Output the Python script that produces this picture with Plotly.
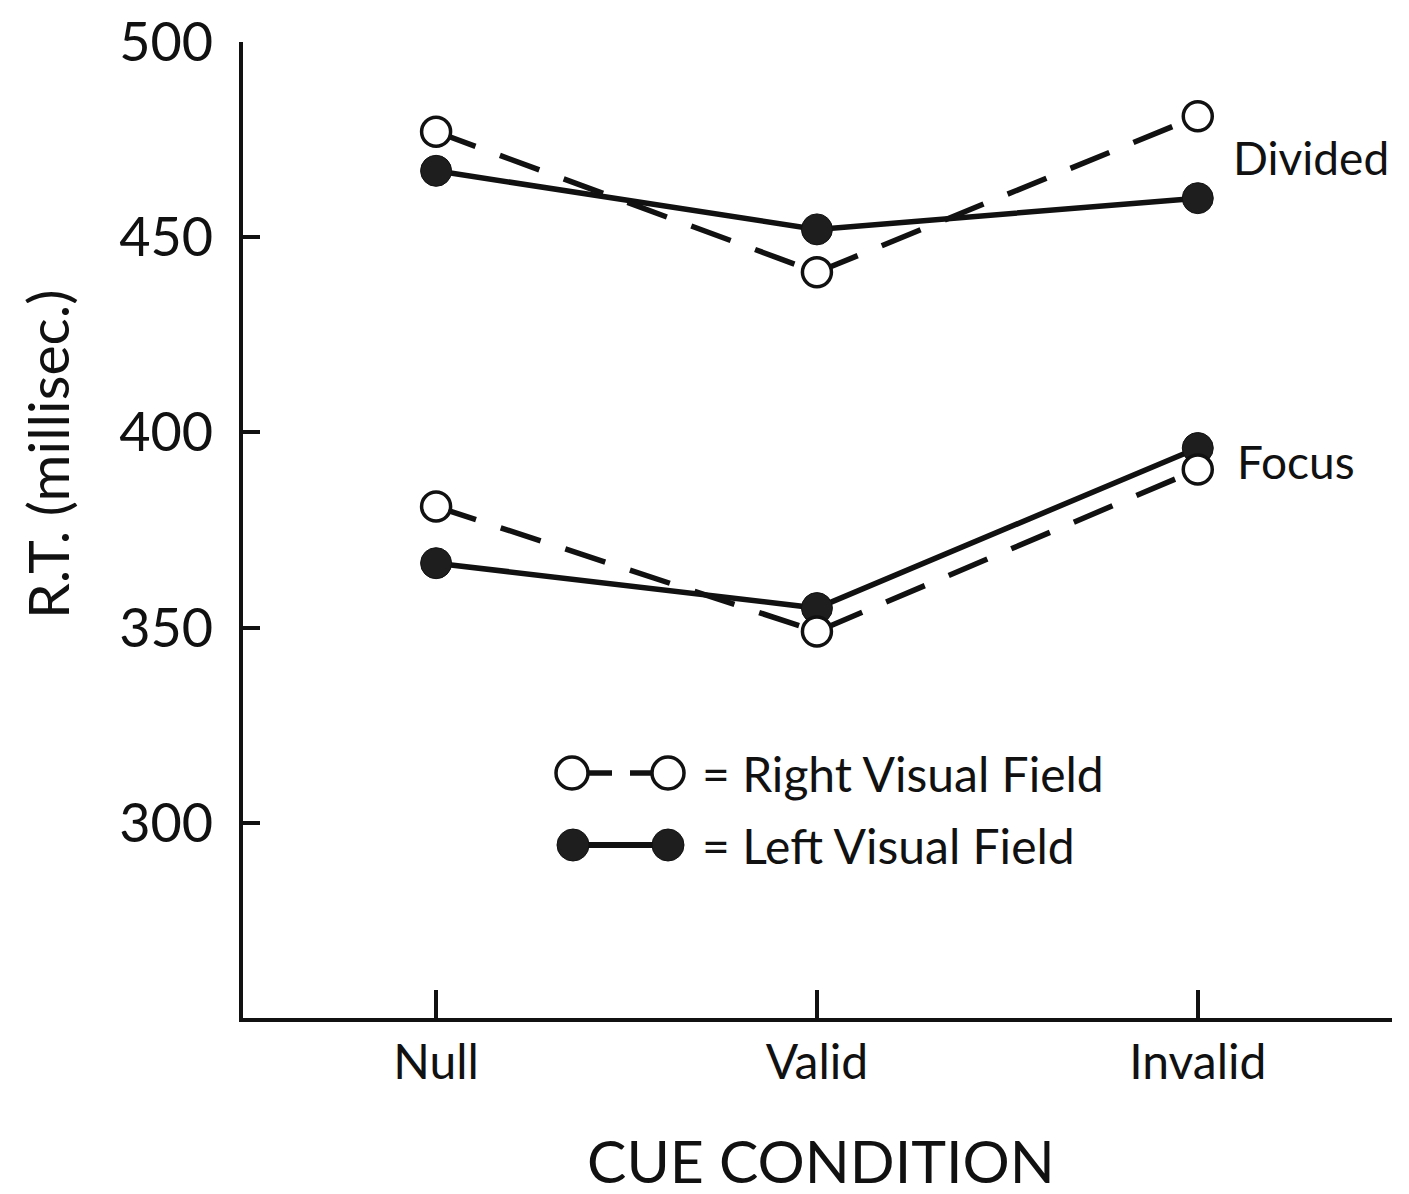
import plotly.graph_objects as go

# ---- data ----
categories = ["Null", "Valid", "Invalid"]
divided_rvf = [477, 441, 481]
divided_lvf = [467, 452, 460]
focus_rvf = [381, 349, 390.5]
focus_lvf = [366.5, 355, 396]
y_tick_vals = [300, 350, 400, 450, 500]
y_tick_text = ["300", "350", "400", "450", "500"]

FONT = "Lato"
INK = "#111111"

W, H = 1409, 1194
OFF = 8  # page body margin shifts the figure by this much
# target plot-area edges in screen pixels
SL, ST, SR, SB = 243, 42, 1392, 1018
L, T = SL - OFF, ST - OFF
R = W - (SR - OFF)
B = H - (SB - OFF)
PW, PH = SR - SL, SB - ST


def px(x):
    return (x - SL) / PW


def py(y):
    return (SB - y) / PH


x_idx = list(range(len(categories)))

fig = go.Figure()

open_marker = dict(symbol="circle", size=29, color="white", line=dict(color=INK, width=3.5))
fill_marker = dict(symbol="circle", size=31, color="#1e1e1e", line=dict(color=INK, width=1))

for lvf, rvf in ((divided_lvf, divided_rvf), (focus_lvf, focus_rvf)):
    fig.add_trace(go.Scatter(x=x_idx, y=lvf, mode="lines+markers",
                             line=dict(color=INK, width=5.5),
                             marker=fill_marker, showlegend=False, cliponaxis=False))
    fig.add_trace(go.Scatter(x=x_idx, y=rvf, mode="lines+markers",
                             line=dict(color=INK, width=5.5, dash="42px,26px"),
                             marker=open_marker, showlegend=False, cliponaxis=False))

shapes = []
annotations = []


def circle(cx, cy, r, fill, lw):
    return dict(type="circle", xref="paper", yref="paper",
                x0=px(cx - r), x1=px(cx + r), y0=py(cy + r), y1=py(cy - r),
                fillcolor=fill, line=dict(color=INK, width=lw), layer="above")


def seg(x0, y0, x1, y1, lw):
    return dict(type="line", xref="paper", yref="paper",
                x0=px(x0), x1=px(x1), y0=py(y0), y1=py(y1),
                line=dict(color=INK, width=lw), layer="above")


ry, ly = 773, 845
shapes += [seg(586, ry, 612, ry, 5.5), seg(630, ry, 654, ry, 5.5),
           circle(572, ry, 16, "white", 3.5), circle(668, ry, 16, "white", 3.5)]
shapes += [seg(585, ly, 656, ly, 6),
           circle(573, ly, 16, "#1e1e1e", 1), circle(668, ly, 16, "#1e1e1e", 1)]

legend_font = dict(family=FONT, size=48, color=INK)
annotations.append(dict(text="= Right Visual Field", x=px(700), y=py(ry), xref="paper", yref="paper",
                        xanchor="left", yanchor="middle", showarrow=False, font=legend_font))
annotations.append(dict(text="= Left Visual Field", x=px(700), y=py(ly), xref="paper", yref="paper",
                        xanchor="left", yanchor="middle", showarrow=False, font=legend_font))
annotations.append(dict(text="Divided", x=px(1231), y=py(158), xref="paper", yref="paper",
                        xanchor="left", yanchor="middle", showarrow=False,
                        font=dict(family=FONT, size=46, color=INK)))
annotations.append(dict(text="Focus", x=px(1235), y=py(461), xref="paper", yref="paper",
                        xanchor="left", yanchor="middle", showarrow=False,
                        font=dict(family=FONT, size=46, color=INK)))
annotations.append(dict(text="R.T. (millisec.)", x=px(47), y=py(455), xref="paper", yref="paper",
                        xanchor="center", yanchor="middle", textangle=-90, showarrow=False,
                        font=dict(family=FONT, size=57, color=INK)))
annotations.append(dict(text="CUE CONDITION", x=px(821), y=py(1160), xref="paper", yref="paper",
                        xanchor="center", yanchor="middle", showarrow=False,
                        font=dict(family=FONT, size=59, color=INK)))

fig.update_layout(
    width=W, height=H,
    margin=dict(l=L, r=R, t=T, b=B, autoexpand=False),
    paper_bgcolor="white", plot_bgcolor="white",
    showlegend=False,
    shapes=shapes, annotations=annotations,
    xaxis=dict(range=[-0.507, 2.51], tickmode="array", tickvals=x_idx, ticktext=categories,
               showgrid=False, zeroline=False, showline=True, linecolor=INK, linewidth=3.5,
               ticks="inside", ticklen=28, tickwidth=3.5, tickcolor=INK,
               ticklabelstandoff=0, automargin=False, ticklabeloverflow="allow",
               tickfont=dict(family=FONT, size=48, color=INK), fixedrange=True),
    yaxis=dict(range=[250, 500], tickmode="array", tickvals=y_tick_vals, ticktext=y_tick_text,
               showgrid=False, zeroline=False, showline=True, linecolor=INK, linewidth=4,
               ticks="inside", ticklen=17, tickwidth=4, tickcolor=INK,
               ticklabelstandoff=15, automargin=False, ticklabeloverflow="allow",
               tickfont=dict(family=FONT, size=54, color=INK), fixedrange=True),
)

fig.write_html("out.html")
